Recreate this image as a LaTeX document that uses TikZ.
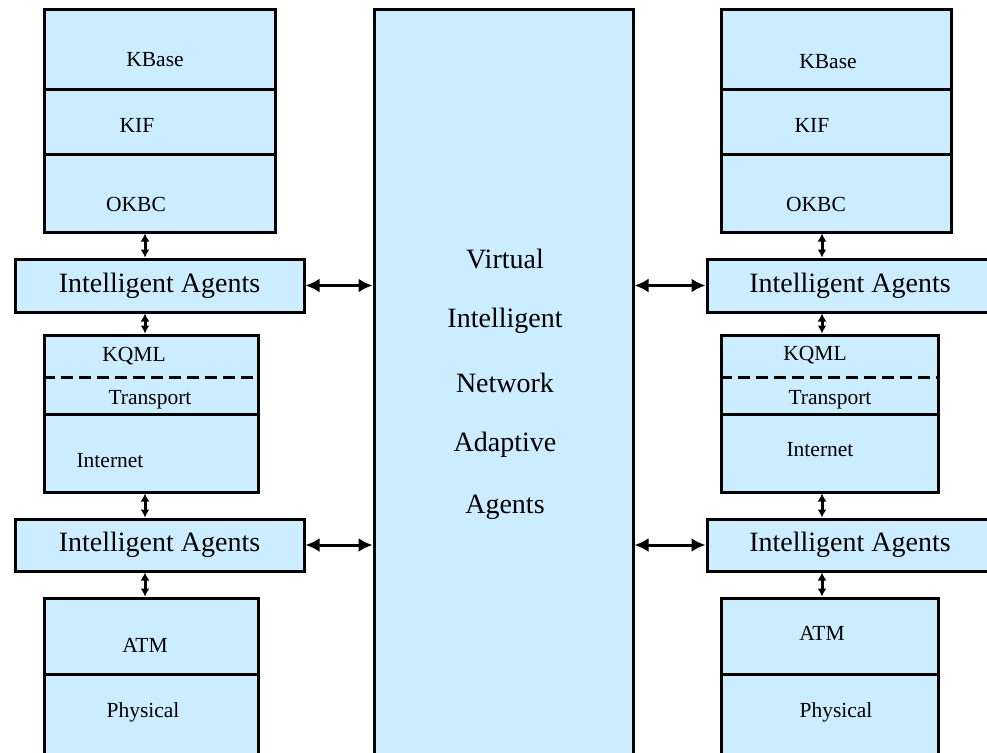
\documentclass[tikz,border=0pt]{standalone}
\usepackage{fontspec}
\setmainfont{Liberation Serif}
\usetikzlibrary{arrows.meta}
\definecolor{layerblue}{RGB}{204,236,255}
\tikzset{
  every picture/.style={
    line width=3pt,
    >={Latex[width=14pt, length=14pt]}
  },
  layer/.style={
    draw, fill=layerblue, inner sep=0pt
  },
  short arrow/.style={
    {Latex[width=9pt, length=8pt]}-{Latex[width=9pt, length=8pt]}
  },
  big label/.style={font=\fontsize{28}{30}\selectfont},
  small label/.style={font=\fontsize{21.5}{24}\selectfont}
}

\begin{document}
\begin{tikzpicture}[x=1pt, y=-1pt]
      \useasboundingbox (0,0) rectangle (987,752);
      % centre
      \node[layer, minimum width=259pt, minimum height=752pt] (vina) at (503.5,386) {};
      \foreach \w [count=\i] in {Virtual,Intelligent,Network,Adaptive,Agents}
        \node[big label] (vina\i) at (505,{197+62*\i}) {\w};
      % left side
      \node[layer, minimum width=231pt, minimum height=79pt] (kbaseL) at (159.5,49.5) {};
      \node[layer, minimum width=231pt, minimum height=65pt] (kifL) at (159.5,121.5) {};
      \node[layer, minimum width=231pt, minimum height=78pt] (okbcL) at (159.5,193) {};
      \node[layer, big label, minimum width=289pt, minimum height=53pt] (iaL1) at (159.5,285.5) {Intelligent Agents};
      \node[layer, minimum width=214pt, minimum height=79pt] (kqmlL) at (151,374.5) {};
      \node[layer, minimum width=214pt, minimum height=78pt] (internetL) at (151,453) {};
      \node[layer, big label, minimum width=289pt, minimum height=52pt] (iaL2) at (159.5,545) {Intelligent Agents};
      \node[layer, minimum width=214pt, minimum height=76pt] (atmL) at (151,636) {};
      \node[layer, minimum width=214pt, minimum height=88pt] (physL) at (151,718) {};
      \draw [dashed, dash pattern=on 12pt off 6pt] (kqmlL.west |- 0,377) -- (kqmlL.east |- 0,377);
      \node[small label] (tKbaseL) at (155,60) {KBase};
      \node[small label] (tKifL) at (137,125) {KIF};
      \node[small label] (tOkbcL) at (136,204) {OKBC};
      \node[small label] (tKqmlL) at (134,356) {KQML};
      \node[small label] (tTranspL) at (150,400) {Transport};
      \node[small label] (tInternetL) at (110,461) {Internet};
      \node[small label] (tAtmL) at (145,645) {ATM};
      \node[small label] (tPhysL) at (143,712) {Physical};
      % right side
      \node[layer, minimum width=230pt, minimum height=79pt] (kbaseR) at (836,49.5) {};
      \node[layer, minimum width=230pt, minimum height=65pt] (kifR) at (836,121.5) {};
      \node[layer, minimum width=230pt, minimum height=78pt] (okbcR) at (836,193) {};
      \node[layer, big label, minimum width=290pt, minimum height=53pt] (iaR1) at (852,285.5) {\hspace*{-4pt}Intelligent Agents};
      \node[layer, minimum width=217pt, minimum height=79pt] (kqmlR) at (829.5,374.5) {};
      \node[layer, minimum width=217pt, minimum height=78pt] (internetR) at (829.5,453) {};
      \node[layer, big label, minimum width=290pt, minimum height=52pt] (iaR2) at (852,545) {\hspace*{-4pt}Intelligent Agents};
      \node[layer, minimum width=217pt, minimum height=76pt] (atmR) at (829.5,636) {};
      \node[layer, minimum width=217pt, minimum height=88pt] (physR) at (829.5,718) {};
      \draw [dashed, dash pattern=on 12pt off 6pt] (kqmlR.west |- 0,377) -- (kqmlR.east |- 0,377);
      \node[small label] (tKbaseR) at (828,62) {KBase};
      \node[small label] (tKifR) at (812,125) {KIF};
      \node[small label] (tOkbcR) at (816,204) {OKBC};
      \node[small label] (tKqmlR) at (815,355) {KQML};
      \node[small label] (tTranspR) at (830,400) {Transport};
      \node[small label] (tInternetR) at (820,450) {Internet};
      \node[small label] (tAtmR) at (822,633) {ATM};
      \node[small label] (tPhysR) at (836,712) {Physical};
      % arrows
      \coordinate (axL) at (145,0);
      \coordinate (axR) at (822,0);
      \draw [short arrow] (okbcL.south -| axL) -- (iaL1.north -| axL);
      \draw [short arrow] (iaL1.south -| axL) -- (kqmlL.north -| axL);
      \draw [short arrow] (internetL.south -| axL) -- (iaL2.north -| axL);
      \draw [short arrow] (iaL2.south -| axL) -- (atmL.north -| axL);
      \draw [short arrow] (okbcR.south -| axR) -- (iaR1.north -| axR);
      \draw [short arrow] (iaR1.south -| axR) -- (kqmlR.north -| axR);
      \draw [short arrow] (internetR.south -| axR) -- (iaR2.north -| axR);
      \draw [short arrow] (iaR2.south -| axR) -- (atmR.north -| axR);
      \draw [<->] (iaL1.east) -- (iaL1.east -| vina.west);
      \draw [<->] (iaL2.east) -- (iaL2.east -| vina.west);
      \draw [<->] (iaR1.west -| vina.east) -- (iaR1.west);
      \draw [<->] (iaR2.west -| vina.east) -- (iaR2.west);
    \end{tikzpicture}
\end{document}
